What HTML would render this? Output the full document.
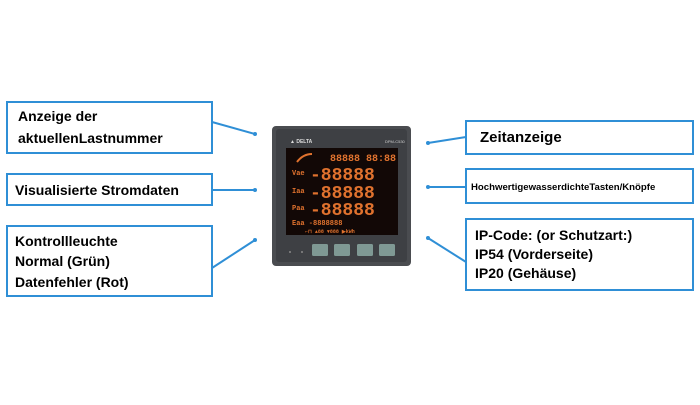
<!DOCTYPE html>
<html><head><meta charset="utf-8"><style>
body{margin:0;background:#fff;}
</style></head><body>
<svg width="700" height="400" viewBox="0 0 700 400" xmlns="http://www.w3.org/2000/svg" font-family="Liberation Sans, sans-serif">
<rect width="700" height="400" fill="#fff"/>
<!-- device -->
<rect x="272" y="126" width="139" height="140" rx="4" fill="#4a4c50"/>
<rect x="276" y="129" width="131" height="133" rx="3" fill="#3e4044"/>
<text x="290" y="143" font-size="5" fill="#ddd" font-weight="bold">▲ DELTA</text>
<text x="385" y="143" font-size="4" fill="#ccc">DPM-C530</text>
<rect x="286" y="148" width="112" height="87" fill="#120806"/>
<g fill="#e0722e" font-family="Liberation Mono, monospace" font-weight="bold">
<text x="330" y="161" font-size="10">88888 88:88</text>
<text x="292" y="175" font-size="7">Vae</text>
<text x="310" y="180" font-size="18">-88888</text>
<text x="292" y="193" font-size="7">Iaa</text>
<text x="310" y="198" font-size="18">-88888</text>
<text x="292" y="210" font-size="7">Paa</text>
<text x="310" y="215" font-size="18">-88888</text>
<text x="292" y="225" font-size="7">Eaa -8888888</text>
<text x="305" y="233" font-size="5">⌐⊓   ▲88  ▼888  ▶kWh</text>
</g>
<path d="M297 162 Q303 154 312 154" stroke="#e0722e" stroke-width="2" fill="none"/>
<rect x="312" y="244" width="16" height="12" rx="1.5" fill="#7f9994"/>
<rect x="334" y="244" width="16" height="12" rx="1.5" fill="#7f9994"/>
<rect x="357" y="244" width="16" height="12" rx="1.5" fill="#7f9994"/>
<rect x="379" y="244" width="16" height="12" rx="1.5" fill="#7f9994"/>
<circle cx="290" cy="252" r="1" fill="#888"/><circle cx="302" cy="252" r="1" fill="#888"/>
<!-- connectors -->
<g stroke="#2f8fd6" stroke-width="2" fill="none">
<line x1="212" y1="122" x2="255" y2="134"/>
<line x1="212" y1="190" x2="255" y2="190"/>
<line x1="212" y1="268" x2="255" y2="240"/>
<line x1="428" y1="143" x2="466" y2="137"/>
<line x1="428" y1="187" x2="466" y2="187"/>
<line x1="428" y1="238" x2="466" y2="262"/>
</g>
<g fill="#2f8fd6">
<circle cx="255" cy="134" r="2"/><circle cx="255" cy="190" r="2"/><circle cx="255" cy="240" r="2"/>
<circle cx="428" cy="143" r="2"/><circle cx="428" cy="187" r="2"/><circle cx="428" cy="238" r="2"/>
</g>
<!-- boxes -->
<g fill="#fff" stroke="#2f8fd6" stroke-width="2">
<rect x="7" y="102" width="205" height="51"/>
<rect x="7" y="174" width="205" height="31"/>
<rect x="7" y="226" width="205" height="70"/>
<rect x="466" y="121" width="227" height="33"/>
<rect x="466" y="169" width="227" height="34"/>
<rect x="466" y="219" width="227" height="71"/>
</g>
<g fill="#000" font-weight="bold" font-size="14">
<text x="18" y="121">Anzeige der</text>
<text x="18" y="143">aktuellenLastnummer</text>
<text x="15" y="195">Visualisierte Stromdaten</text>
<text x="15" y="246">Kontrollleuchte</text>
<text x="15" y="266">Normal (Grün)</text>
<text x="15" y="287">Datenfehler (Rot)</text>
<text x="480" y="142" font-size="15">Zeitanzeige</text>
<text x="471" y="190" font-size="9.6">HochwertigewasserdichteTasten/Knöpfe</text>
<text x="475" y="240">IP-Code: (or Schutzart:)</text>
<text x="475" y="259">IP54 (Vorderseite)</text>
<text x="475" y="278">IP20 (Gehäuse)</text>
</g>
</svg>
</body></html>
